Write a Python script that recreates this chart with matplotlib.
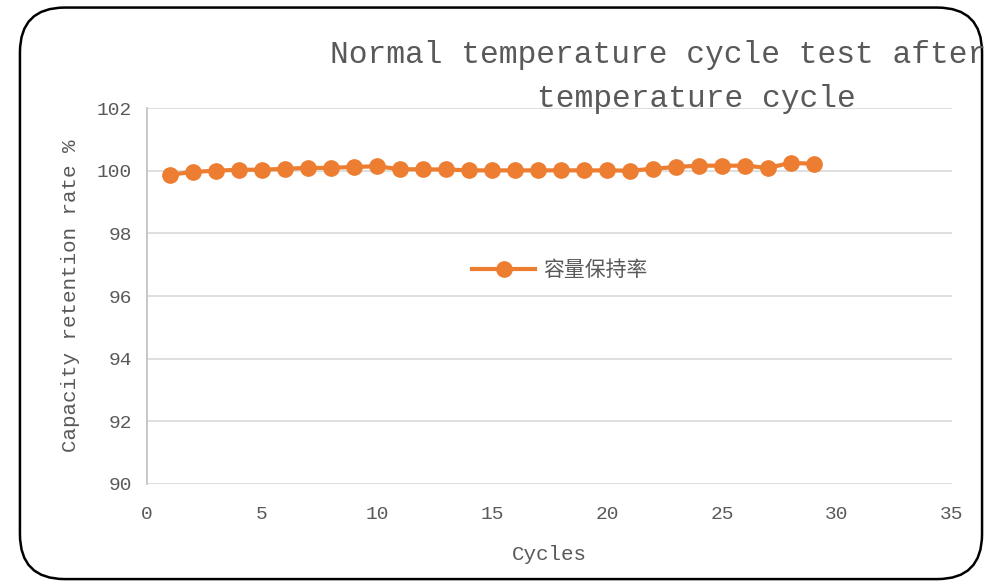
import matplotlib

matplotlib.use("Agg")
import matplotlib.pyplot as plt
from matplotlib.patches import FancyBboxPatch

# Capacity retention per cycle (%)
cycles = list(range(1, 30))
retention = [99.87, 99.96, 100.00, 100.03, 100.03, 100.06, 100.09, 100.09, 100.12, 100.14,
             100.05, 100.04, 100.04, 100.01, 100.01, 100.01, 100.01, 100.01, 100.01, 100.01,
             100.00, 100.06, 100.12, 100.16, 100.16, 100.16, 100.09, 100.25, 100.22]
series_name = "容量保持率"
title_lines = ["Normal temperature cycle test after", "temperature cycle"]
x_ticks = [0, 5, 10, 15, 20, 25, 30, 35]
y_ticks = [90, 92, 94, 96, 98, 100, 102]

ORANGE = "#ed7d31"
GREY = "#595959"
GRID = "#d9d9d9"
MONO = "Liberation Mono"

fig = plt.figure(figsize=(9.97, 5.82), dpi=100)
fig.patch.set_facecolor("white")

# rounded frame around the chart area
frame = FancyBboxPatch((0.020, 0.005), 0.965, 0.982,
                       boxstyle="round,pad=0,rounding_size=0.045",
                       transform=fig.transFigure, facecolor="none",
                       edgecolor="black", linewidth=1.8, mutation_aspect=997 / 582)
fig.patches.append(frame)

ax = fig.add_axes([0.1474, 0.1684, 0.8075, 0.646])
ax.plot(cycles, retention, "-o", color=ORANGE, linewidth=3, markersize=11,
        label=series_name, zorder=3)

ax.set_xlim(0, 35)
ax.set_ylim(90, 102)
ax.set_xticks(x_ticks)
ax.set_yticks(y_ticks)
ax.yaxis.grid(True, color=GRID, linewidth=1.2)
ax.set_axisbelow(True)
for s in ("top", "right", "bottom"):
    ax.spines[s].set_visible(False)
ax.spines["left"].set_color("#bfbfbf")
ax.spines["left"].set_linewidth(1.2)
ax.tick_params(length=0, labelcolor=GREY)
ax.tick_params(axis="x", pad=16)
ax.tick_params(axis="y", pad=11)
for lbl in ax.get_xticklabels() + ax.get_yticklabels():
    lbl.set_fontfamily(MONO)
    lbl.set_fontsize(14)

ax.set_xlabel("Cycles", family=MONO, fontsize=15, color=GREY, labelpad=16)
ax.set_ylabel("Capacity retention rate %", family=MONO, fontsize=15, color=GREY,
              labelpad=12)

leg = ax.legend(loc="center", bbox_to_anchor=(0.513, 0.569), frameon=False,
                handlelength=3.0, handletextpad=0.4,
                prop={"family": ["Noto Sans CJK SC", "DejaVu Sans"], "size": 15})
for t in leg.get_texts():
    t.set_color(GREY)

fig.text(0.331, 0.905, title_lines[0], family=MONO, fontsize=22.5, color=GREY,
         ha="left", va="center")
fig.text(0.539, 0.830, title_lines[1], family=MONO, fontsize=22.5, color=GREY,
         ha="left", va="center")

fig.savefig("out.png", dpi=100)
